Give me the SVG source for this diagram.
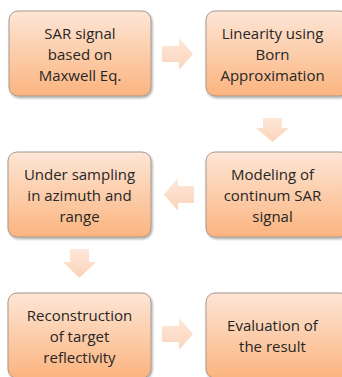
<svg xmlns="http://www.w3.org/2000/svg" width="342" height="377" viewBox="0 0 342 377">
<defs>
<linearGradient id="boxg" x1="0" y1="0" x2="0" y2="1">
<stop offset="0" stop-color="#fde6d6"/>
<stop offset="1" stop-color="#fbb47f"/>
</linearGradient>
<linearGradient id="arrg" x1="0" y1="0" x2="0" y2="1">
<stop offset="0" stop-color="#fde8da"/>
<stop offset="1" stop-color="#fcd3b8"/>
</linearGradient>
<filter id="sh" x="-10%" y="-10%" width="130%" height="130%">
<feDropShadow dx="1" dy="1.5" stdDeviation="1.2" flood-color="#000" flood-opacity="0.35"/>
</filter>
</defs>
<style>
.box{fill:url(#boxg);stroke:#a8988c;stroke-width:1;filter:url(#sh)}
.arr{fill:url(#arrg);stroke:none}
text{font-family:"Open Sans","Liberation Sans",sans-serif;font-size:15px;fill:#262626;text-anchor:middle}
</style>
<rect width="342" height="377" fill="#ffffff"/>
<g id="connectors">
<path class="arr" d="M162,46 H179 V38 L193,54 L179,70 V62 H162 Z"/>
<path class="arr" d="M263,118 V128 H256 L272.5,142 L289,128 H282 V118 Z"/>
<path class="arr" d="M194,186 H178 V178 L164,194.5 L178,211 V203 H194 Z"/>
<path class="arr" d="M70,249 V262 H63 L79.5,278 L96,262 H89 V249 Z"/>
<path class="arr" d="M162,326 H179 V318 L193,334 L179,350 V342 H162 Z"/>
</g>
<g id="n1">
<rect class="box" x="9" y="11" width="142" height="85" rx="9"/>
<text x="80" y="39">SAR signal</text>
<text x="80" y="60">based on</text>
<text x="80" y="81">Maxwell Eq.</text>
</g>
<g id="n2">
<rect class="box" x="206" y="11" width="143" height="85" rx="9"/>
<text x="272.5" y="39">Linearity using</text>
<text x="272.5" y="60">Born</text>
<text x="272.5" y="81">Approximation</text>
</g>
<g id="n3">
<rect class="box" x="206" y="152" width="143" height="85" rx="9"/>
<text x="272.5" y="179.5">Modeling of</text>
<text x="272.5" y="200.5">continum SAR</text>
<text x="272.5" y="221.5">signal</text>
</g>
<g id="n4">
<rect class="box" x="8" y="152" width="143" height="85" rx="9"/>
<text x="79.5" y="179.5">Under sampling</text>
<text x="79.5" y="200.5">in azimuth and</text>
<text x="79.5" y="221.5">range</text>
</g>
<g id="n5">
<rect class="box" x="8" y="293" width="143" height="85" rx="9"/>
<text x="79.5" y="320.5">Reconstruction</text>
<text x="79.5" y="341.5">of target</text>
<text x="79.5" y="362.5">reflectivity</text>
</g>
<g id="n6">
<rect class="box" x="206" y="293" width="143" height="85" rx="9"/>
<text x="272.5" y="331">Evaluation of</text>
<text x="272.5" y="352">the result</text>
</g>
</svg>
